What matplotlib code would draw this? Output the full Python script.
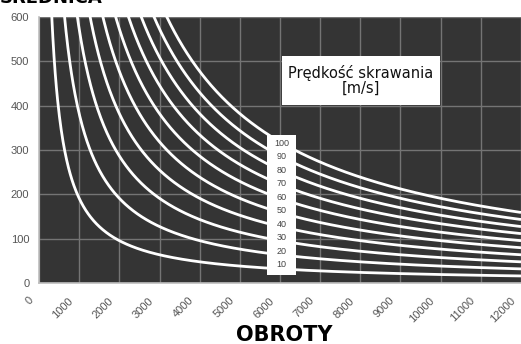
import numpy as np
import matplotlib.pyplot as plt
from matplotlib.patches import Rectangle
from matplotlib.transforms import ScaledTranslation

# cutting speeds [m/s] for each curve
speeds = [10, 20, 30, 40, 50, 60, 70, 80, 90, 100]
xticks = [0, 1000, 2000, 3000, 4000, 5000, 6000, 7000, 8000, 9000, 10000, 11000, 12000]
yticks = [0, 100, 200, 300, 400, 500, 600]

bg = '#343434'
grid_col = '#747474'
tick_col = '#555555'

fig = plt.figure(figsize=(5.21, 3.44), dpi=100)
ax = fig.add_axes([39 / 521, 61 / 344, 482 / 521, 266 / 344])
ax.set_facecolor(bg)

# diameter [mm] for a given speed and rpm: D = 60000 v / (pi n)
n = np.linspace(60, 12000, 800)
for v in speeds:
    d = 60000 * v / (np.pi * n)
    ax.plot(n, d, color='white', lw=2.0, solid_capstyle='butt', zorder=3)

ax.set_xlim(0, 11960)
ax.set_ylim(0, 600)
ax.set_xticks(xticks)
ax.set_yticks(yticks)
ax.set_xticklabels([str(t) for t in xticks], rotation=45, ha='right',
                   rotation_mode='anchor', fontsize=8, color=tick_col,
                   family='Liberation Sans')
ax.set_yticklabels([str(t) for t in yticks], fontsize=8, color=tick_col,
                   family='Liberation Sans')
ax.tick_params(length=0, pad=7)
ax.tick_params(axis='x', pad=9)
shift = ScaledTranslation(-11 / 100, 0, fig.dpi_scale_trans)
for lbl in ax.get_xticklabels():
    lbl.set_transform(lbl.get_transform() + shift)
ax.grid(True, color=grid_col, lw=1.0, zorder=1)
ax.set_axisbelow(True)
for side in ['top', 'right']:
    ax.spines[side].set_visible(False)
for side in ['left', 'bottom']:
    ax.spines[side].set_color('#bdbdbd')
    ax.spines[side].set_linewidth(1.2)

# white strip with speed labels
ax.add_patch(Rectangle((5680, 18), 720, 316, facecolor='white',
                       edgecolor='none', zorder=4))
for i, v in enumerate(speeds):
    ax.text(6040, 41 + i * 30.5, str(v), ha='center', va='center',
            fontsize=6.5, color='#444444', family='Liberation Sans', zorder=5)

# legend box
ax.add_patch(Rectangle((6055, 402), 3920, 110, facecolor='white',
                       edgecolor='none', zorder=4))
ax.text(8015, 457, 'Prędkość skrawania\n[m/s]', ha='center', va='center',
        fontsize=10.5, color='#111111', family='Liberation Sans Narrow',
        linespacing=1.0, zorder=5)

fig.text(0.0, 1 - 3 / 344, 'ŚREDNICA', ha='left', va='baseline',
         fontsize=13, fontweight='bold', family='Liberation Sans Narrow')
fig.text(284 / 521, 3 / 344, 'OBROTY', ha='center', va='baseline',
         fontsize=15, fontweight='bold', family='Liberation Sans Narrow')

fig.savefig('out.png', dpi=100, facecolor='white')
